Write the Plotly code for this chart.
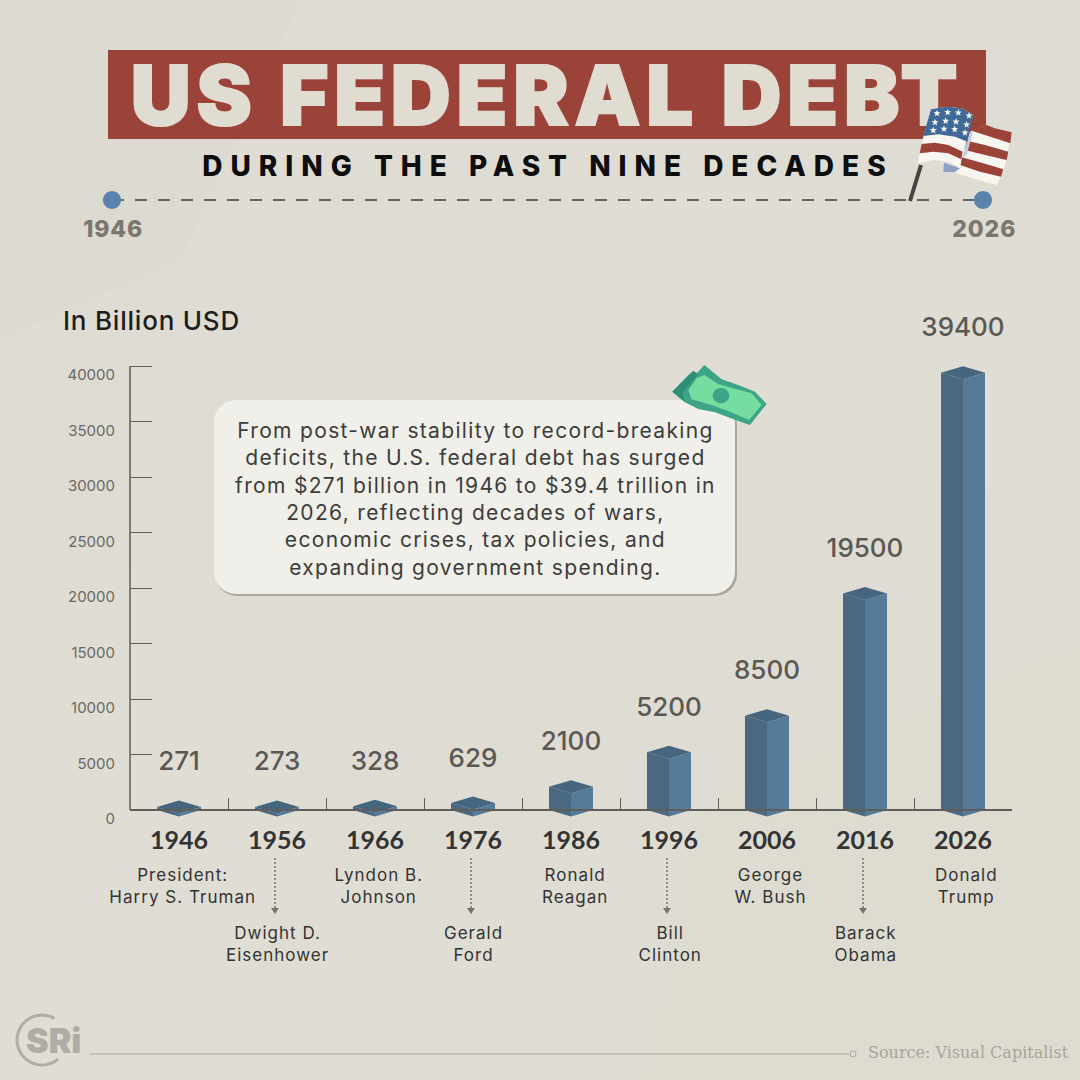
import math

import plotly.graph_objects as go

W = H = 1080

years = ["1946", "1956", "1966", "1976", "1986", "1996", "2006", "2016", "2026"]
debt = [271, 273, 328, 629, 2100, 5200, 8500, 19500, 39400]
presidents = ["President:<br>Harry S. Truman", "Dwight D.<br>Eisenhower", "Lyndon B.<br>Johnson",
              "Gerald<br>Ford", "Ronald<br>Reagan", "Bill<br>Clinton", "George<br>W. Bush",
              "Barack<br>Obama", "Donald<br>Trump"]
y_ticks = [0, 5000, 10000, 15000, 20000, 25000, 30000, 35000, 40000]

blurb = ("From post-war stability to record-breaking<br>deficits, the U.S. federal debt has surged<br>"
         "from $271 billion in 1946 to $39.4 trillion in<br>2026, reflecting decades of wars,<br>"
         "economic crises, tax policies, and<br>expanding government spending.")

# plot area in page pixels; the y axis runs past both ends so feet and top labels are not cut
left, right, top, base = 130, 1012, 366, 810
y_head, y_foot = 300, 826
data_per_px = 40000 / (base - top)
half_bar = 22 / 98
slant = 6.5 * data_per_px
label_gap = 43 * data_per_px

BG = "#dfdcd3"
SANS = "Inter"


def pt(x, y):
    return x / W, 1 - y / H


def path(points, closed=True):
    out = []
    for n, (x, y) in enumerate(points):
        px_, py_ = pt(x, y)
        out.append(("M" if n == 0 else "L") + f"{px_:.5f},{py_:.5f}")
    return " ".join(out) + (" Z" if closed else "")


def fill_shape(points, color, layer="above", opacity=1):
    return dict(type="path", xref="paper", yref="paper", path=path(points), fillcolor=color,
                line=dict(width=0), layer=layer, opacity=opacity)


def rounded(x0, y0, x1, y1, r):
    pts = []
    for cx, cy, start in [(x1 - r, y0 + r, -90), (x1 - r, y1 - r, 0), (x0 + r, y1 - r, 90), (x0 + r, y0 + r, 180)]:
        for k in range(9):
            a = math.radians(start + k * 90 / 8)
            pts.append((cx + r * math.cos(a), cy + r * math.sin(a)))
    return pts


def star(cx, cy, r):
    pts = []
    for k in range(10):
        rr = r if k % 2 == 0 else r * 0.42
        a = math.radians(-90 + k * 36)
        pts.append((cx + rr * math.cos(a), cy + rr * math.sin(a)))
    return pts


def flag(points):
    return [(905 + x / 3, 100 + y / 3) for x, y in points]


def note(points):
    return [(665 + x / 3, 360 + y / 3) for x, y in points]


def text(x, y, s, size, color, family=SANS, weight=400, align="center"):
    px_, py_ = pt(x, y)
    return dict(xref="paper", yref="paper", x=px_, y=py_, text=s, showarrow=False, xanchor=align,
                yanchor="middle", align=align, font=dict(family=family, size=size, color=color, weight=weight))


left_x, left_y, right_x, right_y, top_x, top_y = [], [], [], [], [], []
for i, v in enumerate(debt):
    left_x += [i - half_bar, i - half_bar, i, i, None]
    left_y += [0, v, v - slant, -slant, None]
    right_x += [i, i, i + half_bar, i + half_bar, None]
    right_y += [-slant, v - slant, v, 0, None]
    top_x += [i - half_bar, i, i + half_bar, i, None]
    top_y += [v, v + slant, v, v - slant, None]

fig = go.Figure()
for xs, ys, color in [(left_x, left_y, "#4a6880"), (right_x, right_y, "#557b98"), (top_x, top_y, "#466680")]:
    fig.add_trace(go.Scatter(x=xs, y=ys, mode="lines", fill="toself", fillcolor=color,
                             line=dict(width=0), hoverinfo="skip", showlegend=False))

fig.add_trace(go.Scatter(x=list(range(len(debt))), y=[v + label_gap for v in debt], mode="text",
                         text=[str(v) for v in debt], textposition="middle center",
                         textfont=dict(family=SANS, size=26, color="#5a5855", weight=500), hoverinfo="skip",
                         showlegend=False))

# faint paper creases
shapes = [
    fill_shape([(0, 0), (300, 0), (180, 260), (0, 340)], "#d9d6cc", layer="below", opacity=0.25),
    fill_shape([(420, 230), (760, 180), (1080, 300), (1080, 520), (620, 380)], "#e3e0d8", layer="below", opacity=0.3),
    fill_shape([(0, 620), (150, 560), (330, 820), (210, 1080), (0, 1080)], "#e3e0d8", layer="below", opacity=0.25),
    fill_shape([(700, 800), (1080, 640), (1080, 1080), (640, 1080)], "#dad7cd", layer="below", opacity=0.25),
    fill_shape([(330, 880), (620, 820), (700, 1080), (260, 1080)], "#e2dfd6", layer="below", opacity=0.25),
]

shapes += [
    # title banner
    fill_shape([(108, 50), (986, 50), (986, 139), (108, 139)], "#9b4239", layer="below") | dict(
        label=dict(text="US FEDERAL DEBT", textposition="middle center",
                   font=dict(family=SANS, size=83, color="#e0dcd2", weight=900))),
    # timeline
    dict(type="line", xref="paper", yref="paper", x0=112 / W, x1=983 / W, y0=1 - 200 / H, y1=1 - 200 / H,
         line=dict(color="#666460", width=2, dash="12px,11px"), layer="below"),
    fill_shape(rounded(103, 191, 121, 209, 9), "#5b82ad", layer="below"),
    fill_shape(rounded(974, 191, 992, 209, 9), "#5b82ad", layer="below"),
    # callout box and its shadow
    fill_shape(rounded(215, 402, 737, 596, 22), "#a9a69d", layer="below"),
    fill_shape(rounded(214, 400, 735, 594, 22), "#f0efea", layer="below"),
    # y axis line, stops at zero
    dict(type="line", xref="paper", yref="y", x0=left / W, x1=left / W, y0=0, y1=40000,
         line=dict(color="#5f5d59", width=1.5), layer="below"),
    # footer
    dict(type="line", xref="paper", yref="paper", x0=90 / W, x1=849 / W, y0=1 - 1054 / H, y1=1 - 1054 / H,
         line=dict(color="#bdbaaf", width=1.5), layer="below"),
]

# arrows from the lower-row years down to the president names
for i in range(1, len(years), 2):
    ax = left + 98 * (i + 0.5) - 2
    shapes.append(dict(type="line", xref="paper", yref="paper", x0=ax / W, x1=ax / W, y0=1 - 858 / H, y1=1 - 908 / H,
                       line=dict(color="#77746d", width=1.5, dash="2px,2px"), layer="below"))
    shapes.append(fill_shape([(ax - 4, 908), (ax + 4, 908), (ax, 914)], "#77746d", layer="below"))

# footer end circle
shapes.append(dict(type="circle", xref="paper", yref="paper", x0=850 / W, x1=856 / W, y0=1 - 1051 / H, y1=1 - 1057 / H,
                   line=dict(color="#a8a59b", width=1), fillcolor=BG, layer="below"))

# logo ring, open towards the letters on the right
ring = [(42 + 25 * math.cos(math.radians(a)), 1040 + 25 * math.sin(math.radians(a))) for a in range(50, 310, 10)]
shapes.append(dict(type="path", xref="paper", yref="paper", path=path(ring, closed=False),
                   line=dict(color="#aeaca4", width=3), layer="below"))

FLAG_WHITE = "#f7f6f1"
FLAG_RED = "#9b4239"

# flag back panel
shapes += [
    fill_shape(flag([(195, 95), (245, 75), (270, 85), (320, 97), (298, 207), (275, 255), (220, 240), (150, 218), (170, 170)]), FLAG_WHITE),
    fill_shape(flag([(200, 92), (245, 75), (270, 85), (320, 97), (316, 130), (270, 115)]), FLAG_RED),
    fill_shape(flag([(185, 122), (240, 135), (310, 155), (305, 180), (240, 165), (180, 150)]), FLAG_RED),
    fill_shape(flag([(170, 172), (230, 188), (295, 208), (288, 230), (225, 215), (165, 195)]), FLAG_RED),
    fill_shape(flag([(117, 188), (165, 205), (150, 216), (115, 216)]), "#8e9fc2"),
    fill_shape(flag([(195, 95), (203, 98), (185, 165), (172, 175)]), "#c5cbdd"),
    # front panel
    fill_shape(flag([(78, 28), (125, 20), (170, 25), (205, 45), (190, 95), (175, 150), (165, 203), (130, 185), (85, 180), (38, 190), (55, 110)]), FLAG_WHITE),
    fill_shape(flag([(50, 132), (90, 128), (130, 135), (173, 155), (169, 178), (130, 160), (85, 155), (44, 160)]), FLAG_RED),
    fill_shape(flag([(78, 28), (125, 20), (170, 25), (205, 45), (187, 125), (150, 110), (100, 103), (55, 108)]), "#3f6a97"),
    dict(type="line", xref="paper", yref="paper", x0=910 / W, x1=921 / W, y0=1 - 201 / H, y1=1 - 165 / H,
         line=dict(color="#444444", width=4), layer="above"),
]
for sx, sy in [(96, 40), (128, 37), (160, 38), (192, 47), (90, 67), (122, 63), (153, 65), (185, 74),
               (85, 91), (117, 87), (149, 88), (180, 98)]:
    shapes.append(fill_shape(star(905 + sx / 3, 100 + sy / 3, 3.7), FLAG_WHITE))

# banknote
shapes += [
    fill_shape(note([(22, 95), (70, 45), (85, 33), (95, 40), (118, 15), (170, 58), (220, 75), (270, 95), (305, 132),
                     (255, 195), (235, 188), (190, 172), (150, 157), (100, 147), (60, 127)]), "#3ea488"),
    fill_shape(note([(22, 95), (85, 33), (100, 42), (52, 100), (60, 127)]), "#2f8f76"),
    fill_shape(note([(70, 90), (95, 55), (118, 45), (160, 72), (205, 85), (260, 100), (290, 135), (252, 180),
                     (195, 155), (140, 135), (80, 118)]), "#73de9f"),
    fill_shape([(665 + (168 + 25 * math.cos(math.radians(a))) / 3, 360 + (107 + 23 * math.sin(math.radians(a))) / 3)
                for a in range(0, 360, 20)], "#3ea488"),
]

annotations = [
    text(548, 166, "DURING THE PAST NINE DECADES", 28, "#0d0d0d", weight=800),
    text(113, 229, "1946", 23, "#7a7670", weight=800),
    text(984, 229, "2026", 23, "#7a7670", weight=800),
    text(61, 320, "In Billion USD", 26, "#1d1d1d", weight=500, align="left"),
    text(475, 499, blurb, 21, "#3c3c3a"),
    text(53, 1040, "SRi", 34, "#aeaca4", weight=900),
    text(1071, 1052, "Source: Visual Capitalist", 16, "#a8a59b", family="DejaVu Serif", align="right"),
]
for i, name in enumerate(presidents):
    lower = i % 2 == 1
    x_off = 0.01 if lower else 0.04
    annotations.append(dict(xref="x", yref="paper", x=i + x_off, y=1 - (944 if lower else 886) / H, text=name,
                            showarrow=False, xanchor="center", yanchor="middle", align="center",
                            font=dict(family=SANS, size=17, color="#333333")))

fig.update_layout(
    width=W, height=H, margin=dict(l=0, r=0, t=0, b=0, autoexpand=False), autosize=False,
    paper_bgcolor=BG, plot_bgcolor="rgba(0,0,0,0)", showlegend=False,
    shapes=shapes, annotations=annotations,
    xaxis=dict(domain=[left / W, right / W], range=[-0.5, 8.5], anchor="free", position=1 - base / H,
               tickmode="array", tickvals=list(range(len(years))), ticktext=years, ticks="", showgrid=False,
               zeroline=False, showline=True, linecolor="#5f5d59", linewidth=1.5, ticklabelstandoff=8,
               tickfont=dict(family="Lato", size=25, color="#333333", weight=700),
               minor=dict(tickmode="array", tickvals=[i + 0.5 for i in range(len(years) - 1)], ticks="inside",
                          ticklen=11, tickcolor="#5f5d59", tickwidth=1, showgrid=False)),
    yaxis=dict(domain=[1 - y_foot / H, 1 - y_head / H],
               range=[-(y_foot - base) * data_per_px, (base - y_head) * data_per_px], tickmode="array",
               tickvals=y_ticks, ticktext=[str(t) for t in y_ticks], ticks="inside", ticklen=22, tickcolor="#5f5d59",
               tickwidth=1, showgrid=False, zeroline=False, showline=False, ticklabelstandoff=14, ticklabelshift=9,
               tickfont=dict(family=SANS, size=15, color="#6a6864")),
)

# plotly has no letter spacing option, the wide-set texts get it here
post = """
document.body.style.margin = '0';
document.querySelectorAll('svg text').forEach(function (t) {
    if (t.textContent === 'US FEDERAL DEBT') {
        t.style.letterSpacing = '0.07em';
        t.style.stroke = '#e0dcd2';
        t.style.strokeWidth = '2px';
        t.setAttribute('y', parseFloat(t.getAttribute('y')) - 3);
    }
});
document.querySelectorAll('.annotation-text').forEach(function (t) {
    var s = t.textContent;
    var spacing = '0.06em';
    if (s.indexOf('DURING') === 0) spacing = '0.285em';
    if (s.indexOf('In Billion') === 0) spacing = '0.03em';
    if (s.indexOf('From') === 0) spacing = '0.063em';
    if (s === '1946' || s === '2026') spacing = '0.04em';
    if (s === 'SRi' || s.indexOf('Source') === 0) spacing = '0';
    t.style.letterSpacing = spacing;
});
"""
fig.write_html("out.html", post_script=post, config={"displayModeBar": False})
